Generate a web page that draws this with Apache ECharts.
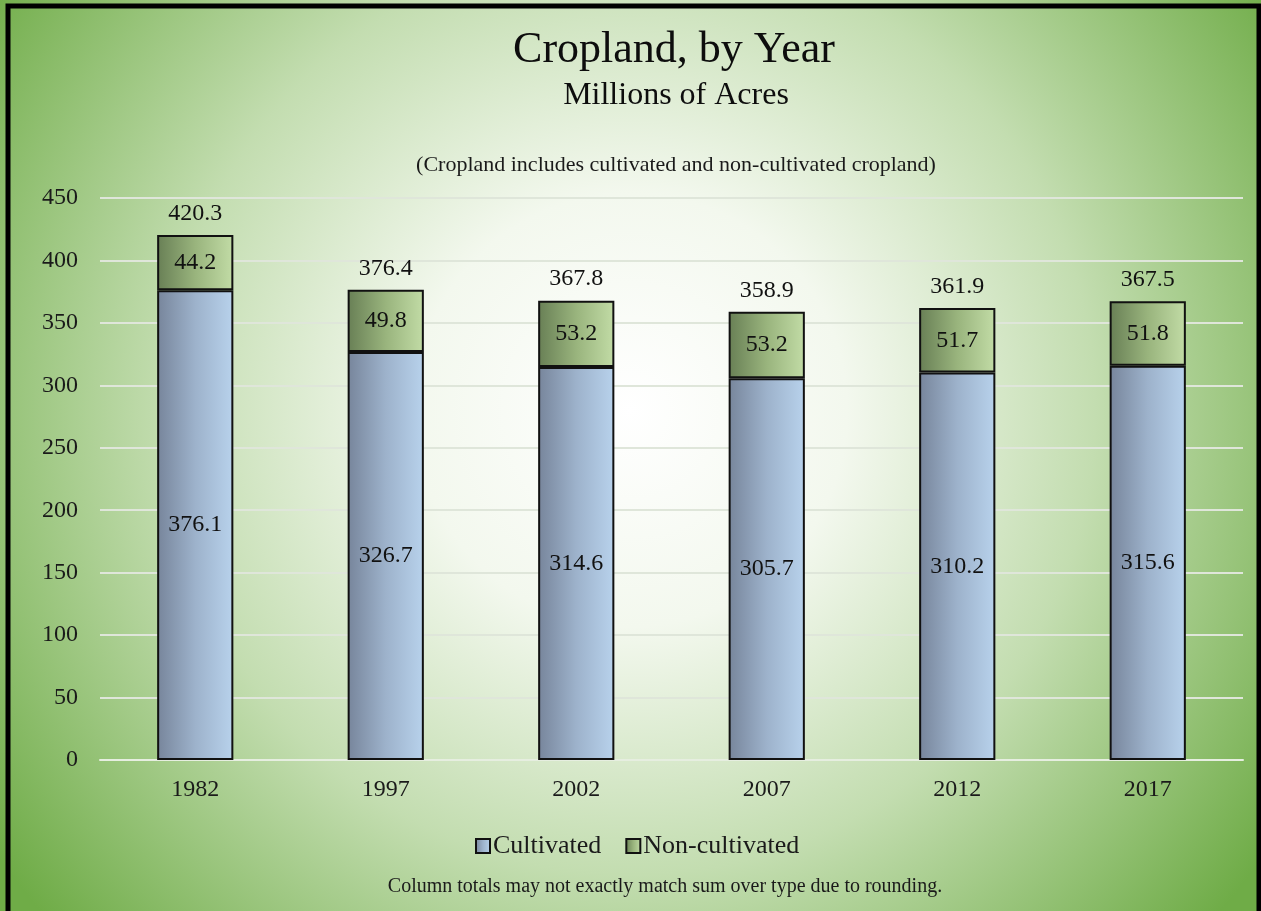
<!DOCTYPE html>
<html>
<head>
<meta charset="utf-8">
<script src="https://cdn.jsdelivr.net/npm/echarts@6/dist/echarts.min.js"></script>
<style>
html,body{margin:0;padding:0;background:#fff;}
#chart{width:1261px;height:911px;}
</style>
</head>
<body>
<div id="chart"></div>
<script>
const years = ['1982', '1997', '2002', '2007', '2012', '2017'];
const cultivated = [376.1, 326.7, 314.6, 305.7, 310.2, 315.6];
const nonCultivated = [44.2, 49.8, 53.2, 53.2, 51.7, 51.8];
const totals = [420.3, 376.4, 367.8, 358.9, 361.9, 367.5];
const yTicks = [0, 50, 100, 150, 200, 250, 300, 350, 400, 450];

const FONT = '"Liberation Serif", "Times New Roman", serif';
const chart = echarts.init(document.getElementById('chart'), null, {renderer: 'canvas'});

const blueGrad = new echarts.graphic.LinearGradient(0, 0, 1, 0, [
  {offset: 0, color: '#77859b'},
  {offset: 0.5, color: '#9db2cb'},
  {offset: 1, color: '#b8d2ec'}
]);
const greenGrad = new echarts.graphic.LinearGradient(0, 0, 1, 0, [
  {offset: 0, color: '#687f55'},
  {offset: 0.5, color: '#99b47d'},
  {offset: 1, color: '#c2dca6'}
]);

function textEl(str, x, y, size, color) {
  return {
    type: 'text', x: x, y: y, silent: true, z: 50,
    style: {
      text: str, font: 'normal ' + size + 'px ' + FONT, fill: color,
      align: 'center', textAlign: 'center', verticalAlign: 'top', textVerticalAlign: 'top'
    }
  };
}

chart.setOption({
  backgroundColor: {
    type: 'radial', x: 0.5, y: 0.45, r: 0.85,
    colorStops: [
      {offset: 0, color: '#ffffff'},
      {offset: 0.28, color: '#f3f8ee'},
      {offset: 0.6, color: '#c3ddb0'},
      {offset: 1, color: '#6fac47'}
    ]
  },
  animation: false,
  legend: {
    data: ['Cultivated', 'Non-cultivated'],
    left: 470, top: 828,
    itemWidth: 14, itemHeight: 14, itemGap: 24,
    icon: 'rect',
    textStyle: {fontFamily: FONT, fontSize: 26, color: '#1a1a1a', padding: [0, 0, 0, -2]}
  },
  grid: {left: 100, right: 18, top: 198, bottom: 151, containLabel: false},
  xAxis: {
    type: 'category', data: years,
    axisLine: {show: true, lineStyle: {color: '#e6eee0', width: 2}},
    axisTick: {show: false},
    axisLabel: {fontFamily: FONT, fontSize: 24, color: '#1a1a1a', margin: 18}
  },
  yAxis: {
    type: 'value', min: 0, max: 450, interval: 50,
    axisLine: {show: false}, axisTick: {show: false},
    axisLabel: {fontFamily: FONT, fontSize: 24, color: '#1a1a1a', margin: 22,
      formatter: v => yTicks.includes(v) ? String(v) : ''},
    splitLine: {lineStyle: {color: '#dfe6da', width: 2}}
  },
  series: [
    {
      name: 'Cultivated', type: 'bar', stack: 'crop', barWidth: '40%',
      data: cultivated,
      itemStyle: {color: blueGrad, borderColor: '#111', borderWidth: 2},
      label: {show: true, position: 'inside', fontFamily: FONT, fontSize: 24, color: '#111',
        formatter: p => cultivated[p.dataIndex].toFixed(1)}
    },
    {
      name: 'Non-cultivated', type: 'bar', stack: 'crop', barWidth: '40%',
      data: nonCultivated,
      itemStyle: {color: greenGrad, borderColor: '#111', borderWidth: 2},
      label: {show: true, position: 'inside', fontFamily: FONT, fontSize: 24, color: '#111',
        formatter: p => nonCultivated[p.dataIndex].toFixed(1)}
    },
    {
      name: 'Total', type: 'line', data: totals,
      symbol: 'circle', symbolSize: 1,
      itemStyle: {color: 'rgba(0,0,0,0)'},
      lineStyle: {width: 0, opacity: 0},
      label: {show: true, position: 'top', distance: 9, fontFamily: FONT, fontSize: 24, color: '#111',
        formatter: p => totals[p.dataIndex].toFixed(1)},
      z: 5
    }
  ],
  graphic: [
    textEl('Cropland, by Year', 674, 28, 44, '#0d0d0d'),
    textEl('Millions of Acres', 676, 80, 32, '#0d0d0d'),
    textEl('(Cropland includes cultivated and non-cultivated cropland)', 676, 154, 22, '#1a1a1a'),
    textEl('Column totals may not exactly match sum over type due to rounding.', 665, 877, 20, '#1a1a1a'),
    {type: 'rect', shape: {x: 8, y: 6, width: 1251, height: 930},
     style: {fill: 'none', stroke: '#000', lineWidth: 5}, silent: true, z: 100}
  ]
});
</script>
</body>
</html>
